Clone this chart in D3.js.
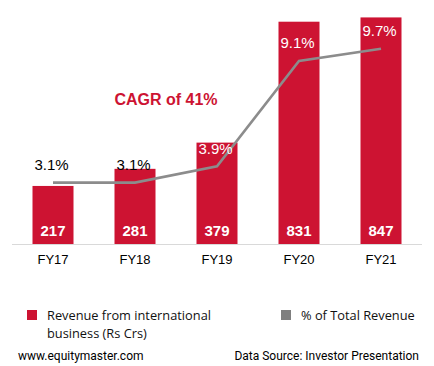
<!DOCTYPE html>
<html>
<head>
<meta charset="utf-8">
<script src="https://cdn.jsdelivr.net/npm/d3@7/dist/d3.min.js"></script>
<style>
  html, body { margin: 0; padding: 0; background: #fff; }
  svg { display: block; }
</style>
</head>
<body>
<svg id="chart" width="434" height="366"></svg>
<script>
const categories = ["FY17", "FY18", "FY19", "FY20", "FY21"];
const revenue = [217, 281, 379, 831, 847];
const pctTotal = [3.1, 3.1, 3.9, 9.1, 9.7];
const pctLabelColors = ["#000", "#000", "#fff", "#fff", "#fff"];
const legendLabels = [["Revenue from international", "business  (Rs Crs)"], ["% of Total Revenue"]];

const RED = "#cd1332";
const GREY = "#8c8c8c";

const svg = d3.select("#chart");

const x = d3.scaleBand().domain(categories).range([12, 422]).paddingInner(0.5).paddingOuter(0.25);
const y = d3.scaleLinear().domain([0, 900]).range([244, 3.25]);
const y2 = d3.scaleLinear().domain([0, 12]).range([245.5, 2]);

// axis line
const xAxis = d3.axisBottom(x).tickSize(0).tickPadding(11);
const gx = svg.append("g").attr("transform", "translate(0,244)").call(xAxis);
gx.select(".domain").attr("stroke", "#d9d9d9").attr("stroke-width", 1.2).attr("d", "M12,0.5H422");
gx.selectAll("text").attr("font-family", "Liberation Sans, Arial, sans-serif").attr("font-size", 13).attr("fill", "#000");

// bars
svg.append("g").selectAll("rect").data(revenue).join("rect")
  .attr("x", (d, i) => x(categories[i]))
  .attr("y", d => y(d))
  .attr("width", x.bandwidth())
  .attr("height", d => y(0) - y(d))
  .attr("fill", RED);

// bar value labels
svg.append("g").selectAll("text").data(revenue).join("text")
  .attr("x", (d, i) => x(categories[i]) + x.bandwidth() / 2)
  .attr("y", 236)
  .attr("text-anchor", "middle")
  .attr("font-family", "Liberation Sans, Arial, sans-serif")
  .attr("font-weight", "bold")
  .attr("font-size", 15)
  .attr("fill", "#fff")
  .text(d => d);

// line
const line = d3.line()
  .x((d, i) => x(categories[i]) + x.bandwidth() / 2)
  .y(d => y2(d));
svg.append("path").datum(pctTotal)
  .attr("d", line)
  .attr("fill", "none")
  .attr("stroke", GREY)
  .attr("stroke-width", 2.6);

// pct labels
svg.append("g").selectAll("text").data(pctTotal).join("text")
  .attr("x", (d, i) => x(categories[i]) + x.bandwidth() / 2 - 1.5)
  .attr("y", d => y2(d) - 12.5)
  .attr("text-anchor", "middle")
  .attr("font-family", "Liberation Sans, Arial, sans-serif")
  .attr("font-size", 15)
  .attr("fill", (d, i) => pctLabelColors[i])
  .text(d => d.toFixed(1) + "%");

// CAGR annotation
svg.append("text")
  .attr("x", 166).attr("y", 104.5)
  .attr("text-anchor", "middle")
  .attr("font-family", "Liberation Sans, Arial, sans-serif")
  .attr("font-weight", "bold")
  .attr("font-size", 16)
  .attr("fill", RED)
  .text("CAGR of 41%");

// legend
const legendFont = "Open Sans, sans-serif";
const lg = svg.append("g");
lg.append("rect").attr("x", 27).attr("y", 310).attr("width", 10).attr("height", 10).attr("fill", RED);
const t1 = lg.append("text").attr("x", 47).attr("y", 319.5)
  .attr("font-family", legendFont).attr("font-size", 12.8).attr("fill", "#111");
legendLabels[0].forEach((s, i) => t1.append("tspan").attr("x", 47).attr("dy", i === 0 ? 0 : 18.5).text(s));
lg.append("rect").attr("x", 281).attr("y", 310).attr("width", 10).attr("height", 10).attr("fill", "#7f7f7f");
lg.append("text").attr("x", 301).attr("y", 319.5)
  .attr("font-family", legendFont).attr("font-size", 12.8).attr("fill", "#111")
  .text(legendLabels[1][0]);

// footer
svg.append("text").attr("x", 18).attr("y", 360)
  .attr("font-family", "Roboto, sans-serif").attr("font-size", 12).attr("fill", "#000")
  .text("www.equitymaster.com");
svg.append("text").attr("x", 419).attr("y", 360).attr("text-anchor", "end")
  .attr("font-family", "Roboto, sans-serif").attr("font-size", 12).attr("fill", "#000")
  .text("Data Source: Investor Presentation");
</script>
</body>
</html>
